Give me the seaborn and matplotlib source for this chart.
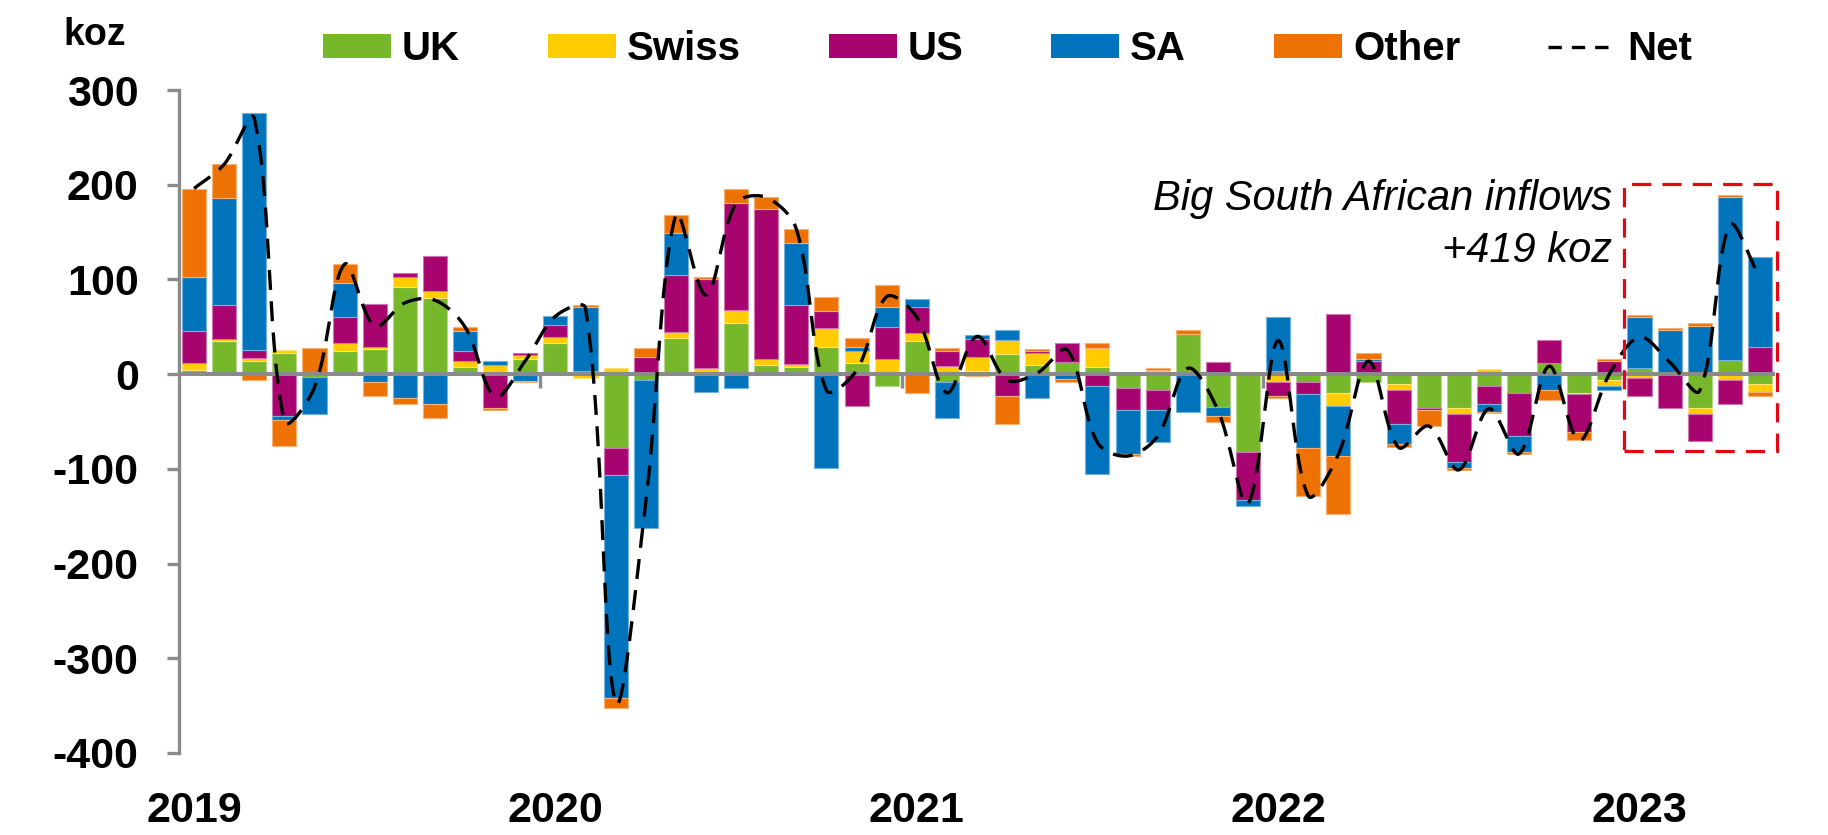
import numpy as np
import pandas as pd
import matplotlib
matplotlib.use("Agg")
import matplotlib.pyplot as plt
from matplotlib.patches import Patch, Rectangle
from matplotlib.lines import Line2D
import matplotlib.colors as mcolors
import seaborn as sns

# Monthly gold flows by region, koz (Jan 2019 - May 2023)
months = pd.date_range("2019-01-01", periods=53, freq="MS").strftime("%Y-%m").tolist()

uk = [4, 35, 14, 22.5, -3, 24.6, 27, 92, 80, 7.7, 2, 16.5,
      33, 0, -78.5, -6.3, 37.7, 0, 54, 10, 7.7, 29, 12, -12.7,
      35, -8.8, 3, 20.8, 10, 13, 7.7, -15, -17, 42, -34.5, -82.7,
      3.5, -8.8, -19.4, -8.8, -10.6, -36, -36, -12.7, -19.4, 12, -19.4, -6.7,
      6, 0, -36, 15, -10.6]
swiss = [8, 2.5, 3, 3, 0, 8.5, 2, 10.5, 8, 6.3, 8, 4,
         6.3, -4, 6, 0, 6.3, 6, 13.4, 6.3, 2.5, 19.4, 12.7, 16.5,
         8.8, 8.5, 15, 15, 12.3, 0, 19.4, 0, 4, 0, 0, 0,
         -8.8, 0, -14.4, 0, -6.3, 0, -6, 5, 0, 0, -1.8, -5.6,
         -4.2, 0, -6, -6, -8]
us = [34, 36, 8, -44, 2, 27.5, 45, 4.5, 36.6, 10.5, -36, 2,
      13, 3, -27.5, 18.3, 61, 94, 113, 158, 63, 18.7, -33.8, 33.4,
      27, 16.2, 19.4, -23, 2, 20.4, -12.7, -23, -21, 0, 12.3, -50,
      -14.4, -12.3, 63, 13.7, -36, -1.8, -51, -19, -46, 24, -40, 14,
      -19.4, -36, -29, -25.7, 29]
sa = [57, 112, 251, -4, -39, 36, -8.5, -25.7, -31.7, 21, 4, -7,
      8.8, 68, -236, -156, 44, -19, -15, 0, 65, -99, 4.2, 21,
      8.8, -38, 4.2, 10.6, -25.7, -5, -93, -46.5, -33.4, -40, -9.9, -6,
      57, -57.4, -52.8, 2.8, -21, 0, -6.3, -8, -17, -17, 0, -4.2,
      54, 47, 51, 172, 95]
other = [93, 36, -6, -27.5, 26, 19.5, -15, -6, -14.8, 4.2, -1.7, -1.4,
         0, 2.5, -10.6, 8.8, 19.4, 2.5, 15, 12.3, 15, 14.8, 8.8, 23.6,
         -19.4, 2.5, -1.8, -29.6, 2.5, -3, 6.3, -2, 2, 4.2, -6, 2,
         -1.8, -50, -61.2, 6, -3.5, -17, -1.8, -1.8, -1.8, -10.6, -8.8, 2.5,
         2.8, 1.8, 2.5, 2, -4.2]

series_names = ["UK", "Swiss", "US", "SA", "Other"]
series_colors = ["#77B82A", "#FFCC00", "#A8046F", "#0073BD", "#EE7203"]
year_labels = ["2019", "2020", "2021", "2022", "2023"]
y_ticks = [-400, -300, -200, -100, 0, 100, 200, 300]

sns.set_style("white")
plt.rcParams["font.family"] = ["Liberation Sans", "DejaVu Sans"]
plt.rcParams["axes.unicode_minus"] = False
plt.rcParams["text.color"] = "black"

AXIS_GREY = "#8A8A8A"

fig = plt.figure(figsize=(18.28, 8.35), dpi=100)
ax_left, ax_bottom = 179 / 1828, 1 - 753 / 835
ax_w, ax_h = (1775 - 179) / 1828, (753 - 90) / 835
ax = fig.add_axes([ax_left, ax_bottom, ax_w, ax_h])

# Stacked bars: positives stack upward, negatives downward, in series order
pos = np.zeros(len(months))
neg = np.zeros(len(months))
for name, vals, col in zip(series_names, [uk, swiss, us, sa, other], series_colors):
    v = np.asarray(vals, dtype=float)
    bottom = np.where(v >= 0, pos, neg)
    edge = mcolors.to_hex(0.55 * np.array(mcolors.to_rgb(col)) + 0.45)
    sns.barplot(x=months, y=v, order=months, color=col, saturation=1,
                width=0.8, bottom=bottom, edgecolor=edge, linewidth=0.8,
                ax=ax, zorder=2)
    pos += np.clip(v, 0, None)
    neg += np.clip(v, None, 0)

for p in ax.patches:
    if abs(p.get_height()) < 1e-9:
        p.set_linewidth(0)

ax.set_xlim(-0.5, len(months) - 0.5)
ax.set_ylim(-400, 300)

# Net flow: smoothed Bezier curve through the monthly totals, with control
# points scaled by segment length in screen space (spreadsheet-style smoothing)
net = pos + neg
sx = ax_w * 1828 / len(months)          # pixels per month
sy = ax_h * 835 / 700.0                 # pixels per koz
P = np.column_stack([np.arange(len(net)) * sx, net * sy])
Pe = np.vstack([P[0], P, P[-1]])
L = np.linalg.norm(np.diff(Pe, axis=0), axis=1)
t = np.linspace(0, 1, 30)[:, None]
pieces = []
for i in range(len(P) - 1):
    p0, p1, p2, p3 = Pe[i], Pe[i + 1], Pe[i + 2], Pe[i + 3]
    l01, l12, l23 = L[i], L[i + 1], L[i + 2]
    c1 = p1 + (p2 - p0) * (l12 / max(l01 + l12, 1e-9)) / 3
    c2 = p2 - (p3 - p1) * (l12 / max(l12 + l23, 1e-9)) / 3
    seg = ((1 - t) ** 3) * p1 + 3 * ((1 - t) ** 2) * t * c1 + 3 * (1 - t) * t ** 2 * c2 + t ** 3 * p2
    pieces.append(seg if i == 0 else seg[1:])
curve = np.vstack(pieces)
ax.plot(curve[:, 0] / sx, curve[:, 1] / sy, color="black", lw=2.4,
        linestyle=(0, (6, 3.4)), zorder=4)

# Zero line and year separators
ax.axhline(0, color=AXIS_GREY, lw=2.9, zorder=3)
for b in [11.5, 23.5, 35.5, 47.5]:
    ax.vlines(b, -15, 0, color=AXIS_GREY, lw=2.4, zorder=3)

ax.set_yticks(y_ticks)
ax.set_yticklabels([str(v) for v in y_ticks])
ax.set_xticks([0, 12, 24, 36, 48])
ax.set_xticklabels(year_labels)
ax.set_xlabel("")
ax.set_ylabel("")

for s in ["top", "right", "bottom"]:
    ax.spines[s].set_visible(False)
ax.spines["left"].set_color(AXIS_GREY)
ax.spines["left"].set_linewidth(2.4)
ax.tick_params(axis="y", direction="out", length=9, width=2.4, color=AXIS_GREY,
               pad=20, labelsize=31, left=True, labelcolor="black")
ax.tick_params(axis="x", length=0, pad=27, labelsize=31, labelcolor="black")
for lab in ax.get_xticklabels() + ax.get_yticklabels():
    lab.set_fontweight("bold")

# Highlight box around the 2023 South African inflows
ax.add_patch(Rectangle((47.5, -81), 5.06, 282, fill=False, edgecolor="#E30613",
                       lw=2.3, linestyle=(0, (6, 3.5)), zorder=5, clip_on=False))
fig.text(1612 / 1828, 1 - 210 / 835, "Big South African inflows", ha="right",
         va="baseline", fontsize=30, style="italic", color="black")
fig.text(1612 / 1828, 1 - 262 / 835, "+419 koz", ha="right",
         va="baseline", fontsize=30, style="italic", color="black")

fig.text(95 / 1828, 1 - 35 / 835, "koz", ha="center", va="center",
         fontsize=27, fontweight="bold", color="black")

handles = [Patch(facecolor=c, edgecolor="none", label=n)
           for n, c in zip(series_names, series_colors)]
handles.append(Line2D([], [], color="black", lw=2.4, linestyle=(0, (4, 3)), label="Net"))
leg = fig.legend(handles=handles, loc="center left", bbox_to_anchor=(323 / 1828, 1 - 49 / 835),
                 ncol=6, frameon=False, prop={"weight": "bold", "size": 29},
                 handlelength=1.69, handleheight=0.55, handletextpad=0.27,
                 columnspacing=2.18, borderpad=0, borderaxespad=0)
for txt in leg.get_texts():
    txt.set_color("black")

fig.savefig("out.png", dpi=100)
